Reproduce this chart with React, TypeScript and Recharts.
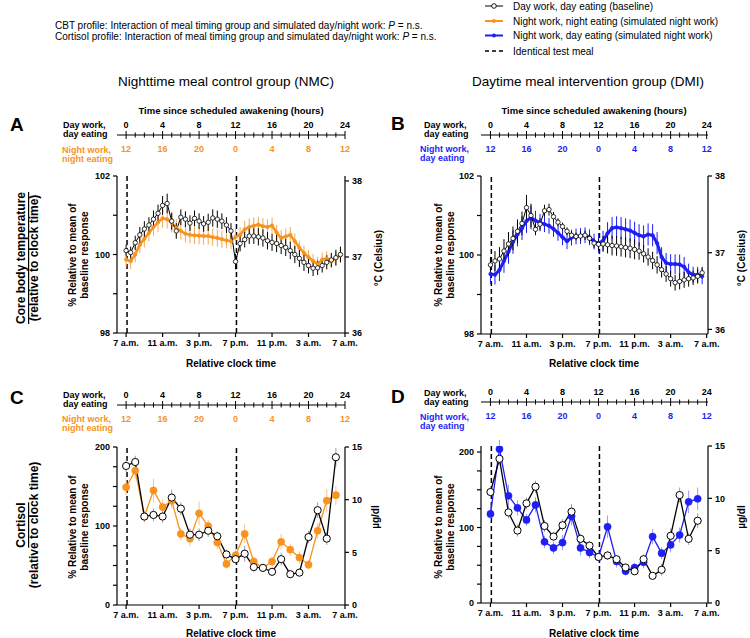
import React from 'react';
import { ComposedChart, Line, XAxis, YAxis, ErrorBar, ReferenceLine } from 'recharts';

// x grids (hours since scheduled awakening)
const cbtHours = Array.from({ length: 48 }, (_, i) => i * 0.5);
const cortHours = Array.from({ length: 24 }, (_, i) => i);

const awakeTicks = [0, 4, 8, 12, 16, 20, 24];
const shiftedLabels = ['12', '16', '20', '0', '4', '8', '12'];
const clockLabels = ['7 a.m.', '11 a.m.', '3 p.m.', '7 p.m.', '11 p.m.', '3 a.m.', '7 a.m.'];
const hourTicks = Array.from({ length: 25 }, (_, i) => i);
const mealTimes = [0.1, 12.1];

// core body temperature, % relative to baseline mean
const cbtBaseNMC = [100.1, 100.05, 100.3, 100.5, 100.65, 100.75, 100.9, 101.05, 101.25, 101.3, 100.85, 100.6, 100.95, 100.9, 100.8, 100.92, 100.85, 100.78, 100.82, 100.93, 100.9, 100.85, 100.75, 100.6, 99.82, 100.28, 100.38, 100.47, 100.47, 100.45, 100.42, 100.35, 100.31, 100.28, 100.23, 100.18, 100.1, 100.0, 99.9, 99.8, 99.72, 99.65, 99.66, 99.72, 99.8, 99.86, 99.92, 100.0];
const cbtBaseNMCErr = [0.15, 0.15, 0.18, 0.2, 0.2, 0.2, 0.22, 0.22, 0.24, 0.25, 0.22, 0.2, 0.2, 0.2, 0.2, 0.2, 0.2, 0.2, 0.22, 0.22, 0.22, 0.2, 0.2, 0.2, 0.2, 0.2, 0.2, 0.2, 0.2, 0.22, 0.22, 0.22, 0.22, 0.22, 0.22, 0.22, 0.22, 0.22, 0.22, 0.22, 0.2, 0.2, 0.18, 0.18, 0.18, 0.18, 0.2, 0.2];
const cbtNightNMC = [99.87, 99.83, 100.0, 100.25, 100.4, 100.55, 100.7, 100.82, 100.92, 100.9, 100.8, 100.68, 100.6, 100.53, 100.5, 100.49, 100.48, 100.47, 100.47, 100.44, 100.42, 100.39, 100.36, 100.34, 100.45, 100.5, 100.64, 100.7, 100.73, 100.76, 100.72, 100.7, 100.74, 100.56, 100.42, 100.46, 100.5, 100.34, 100.17, 100.04, 99.93, 99.83, 99.76, 99.87, 99.9, 99.83, 99.9, 99.98];
const cbtNightNMCErr = [0.18, 0.2, 0.2, 0.22, 0.22, 0.22, 0.22, 0.24, 0.24, 0.24, 0.24, 0.22, 0.22, 0.22, 0.22, 0.22, 0.22, 0.22, 0.22, 0.22, 0.22, 0.22, 0.2, 0.2, 0.2, 0.2, 0.22, 0.22, 0.22, 0.2, 0.2, 0.2, 0.2, 0.2, 0.2, 0.2, 0.2, 0.2, 0.18, 0.18, 0.18, 0.18, 0.18, 0.18, 0.18, 0.18, 0.18, 0.18];
const cbtBaseDMI = [99.75, 99.85, 99.9, 100.1, 100.28, 100.42, 100.6, 100.8, 101.2, 101.0, 100.65, 100.78, 101.12, 101.15, 100.97, 100.83, 100.72, 100.6, 100.5, 100.47, 100.48, 100.5, 100.42, 100.3, 100.27, 100.28, 100.26, 100.24, 100.23, 100.21, 100.19, 100.17, 100.14, 100.1, 100.03, 99.95, 99.86, 99.75, 99.63, 99.52, 99.4, 99.3, 99.33, 99.37, 99.4, 99.42, 99.46, 99.55];
const cbtBaseDMIErr = [0.2, 0.25, 0.3, 0.3, 0.3, 0.3, 0.3, 0.3, 0.32, 0.3, 0.15, 0.15, 0.15, 0.15, 0.12, 0.1, 0.1, 0.1, 0.1, 0.1, 0.12, 0.12, 0.12, 0.12, 0.15, 0.2, 0.22, 0.25, 0.25, 0.25, 0.25, 0.25, 0.25, 0.22, 0.22, 0.22, 0.22, 0.22, 0.2, 0.2, 0.2, 0.2, 0.2, 0.2, 0.2, 0.18, 0.18, 0.15];
const cbtDayDMI = [99.52, 99.5, 99.62, 99.85, 100.08, 100.33, 100.52, 100.68, 100.86, 100.95, 100.87, 100.82, 100.78, 100.74, 100.66, 100.56, 100.45, 100.35, 100.44, 100.47, 100.48, 100.5, 100.45, 100.34, 100.3, 100.36, 100.55, 100.68, 100.7, 100.68, 100.65, 100.62, 100.56, 100.5, 100.47, 100.52, 100.5, 100.3, 99.95, 99.8, 99.77, 99.77, 99.76, 99.7, 99.56, 99.5, 99.5, 99.46];
const cbtDayDMIErr = [0.25, 0.25, 0.28, 0.3, 0.3, 0.3, 0.3, 0.3, 0.3, 0.3, 0.25, 0.22, 0.2, 0.2, 0.2, 0.2, 0.2, 0.2, 0.2, 0.2, 0.2, 0.2, 0.2, 0.2, 0.25, 0.25, 0.28, 0.28, 0.28, 0.28, 0.28, 0.28, 0.28, 0.28, 0.28, 0.28, 0.28, 0.28, 0.25, 0.25, 0.25, 0.25, 0.25, 0.25, 0.22, 0.2, 0.2, 0.2];

// cortisol, % relative to baseline mean
const cortBaseNMC = [176, 181, 112, 114, 112, 136, 122, 89, 89, 94, 87, 64, 58, 65, 48, 47, 42, 58, 39, 41, 86, 120, 84, 187];
const cortBaseNMCErr = [8, 8, 6, 8, 8, 10, 8, 8, 8, 8, 6, 6, 6, 10, 6, 5, 5, 8, 5, 5, 8, 10, 8, 12];
const cortNightNMC = [149, 170, 112, 145, 124, 132, 90, 84, 116, 100, 79, 52, 63, 90, 55, 47, 55, 80, 70, 60, 51, 94, 132, 139];
const cortNightNMCErr = [10, 10, 8, 15, 10, 10, 8, 10, 15, 8, 8, 6, 8, 12, 6, 5, 6, 10, 8, 8, 6, 10, 15, 12];
const cortBaseDMI = [147, 191, 120, 96, 132, 154, 102, 88, 103, 121, 85, 76, 61, 63, 58, 47, 42, 58, 36, 44, 89, 143, 85, 109];
const cortBaseDMIErr = [8, 8, 8, 8, 8, 8, 8, 6, 8, 10, 6, 6, 5, 6, 5, 5, 5, 6, 5, 8, 10, 10, 8, 10];
const cortDayDMI = [118, 204, 142, 126, 110, 130, 81, 73, 80, 115, 73, 67, 61, 101, 55, 42, 47, 54, 88, 66, 77, 90, 134, 138];
const cortDayDMIErr = [10, 12, 15, 10, 8, 10, 8, 8, 10, 12, 10, 8, 8, 15, 8, 5, 6, 8, 10, 8, 10, 10, 15, 15];

const ORANGE = '#F7931E';
const BLUE = '#1E1EF5';
const FONT = "'Liberation Sans', Arial, sans-serif";

const rows = (hours: number[], v: number[], e: number[]) => hours.map((h, i) => ({ h, v: v[i], e: e[i] }));

const tickStyle = { fill: '#000', fontSize: 9, fontWeight: 'bold', fontFamily: FONT };

const HourTick = (props: any) => {
  const { x, y, payload, color } = props;
  const h = payload.value;
  const i = awakeTicks.indexOf(h);
  const len = i >= 0 ? 4 : 2.5;
  return (
    <g>
      <line x1={x} x2={x} y1={y - len} y2={y + len} stroke="#000" strokeWidth={1} />
      {i >= 0 && (
        <text x={x} y={y - 7} textAnchor="middle" fontSize={9} fontWeight="bold" fontFamily={FONT} fill="#000">{h}</text>
      )}
      {i >= 0 && (
        <text x={x} y={y + 17} textAnchor="middle" fontSize={9} fontWeight="bold" fontFamily={FONT} fill={color}>{shiftedLabels[i]}</text>
      )}
    </g>
  );
};

const HourAxis = ({ left, top, width, plotLeft, mr, xDomain, color }: any) => (
  <div style={{ position: 'absolute', left, top }}>
    <ComposedChart width={width} height={60} margin={{ top: 0, right: mr, bottom: 0, left: plotLeft }} data={hourTicks.map((h) => ({ h }))}>
      <XAxis type="number" dataKey="h" domain={xDomain} ticks={hourTicks} interval={0} allowDataOverflow height={25}
        tickSize={0} tickMargin={0} tickLine={false} stroke="#000" strokeWidth={1.2}
        tick={(p: any) => <HourTick {...p} color={color} />} />
      <YAxis hide />
    </ComposedChart>
  </div>
);

const Panel = ({ left, top, width, height, plotLeft, mr, xDomain, yDomain, yTicks, yShown, rDomain, rTicks, base, shifted, color, errColor, baseErrColor, big, lineW }: any) => (
  <div style={{ position: 'absolute', left, top }}>
    <ComposedChart width={width} height={height} margin={{ top: 6, right: mr, bottom: 0, left: 0 }}>
      <XAxis type="number" dataKey="h" domain={xDomain} ticks={awakeTicks} interval={0} allowDataOverflow height={20}
        tickSize={4} tickMargin={3} stroke="#000" strokeWidth={1.2} tick={tickStyle}
        tickFormatter={(v: number) => clockLabels[awakeTicks.indexOf(v)]} />
      <YAxis yAxisId="l" domain={yDomain} ticks={yTicks} interval={0} allowDataOverflow width={plotLeft}
        tickSize={4} tickMargin={3} stroke="#000" strokeWidth={1.2} tick={tickStyle}
        tickFormatter={(v: number) => (yShown.includes(v) ? String(v) : '')} />
      <YAxis yAxisId="r" orientation="right" domain={rDomain} ticks={rTicks} interval={0} allowDataOverflow width={30}
        tickSize={4} tickMargin={3} stroke="#000" strokeWidth={1.2} tick={tickStyle} />
      {mealTimes.map((m) => (
        <ReferenceLine key={m} x={m} yAxisId="l" stroke="#000" strokeDasharray="5 3" strokeWidth={1.5} />
      ))}
      <Line yAxisId="l" data={shifted} dataKey="v" stroke={color} strokeWidth={lineW} isAnimationActive={false}
        dot={{ r: big ? 3.6 : 1.8, fill: color, stroke: color, strokeWidth: 0.5 }}>
        <ErrorBar dataKey="e" width={0} stroke={errColor} strokeWidth={1} direction="y" />
      </Line>
      <Line yAxisId="l" data={base} dataKey="v" stroke="#000" strokeWidth={big ? 1.3 : 1} isAnimationActive={false}
        dot={{ r: big ? 3.6 : 2.2, fill: '#fff', stroke: '#000', strokeWidth: big ? 1 : 0.8 }}>
        <ErrorBar dataKey="e" width={0} stroke={baseErrColor} strokeWidth={1} direction="y" />
      </Line>
    </ComposedChart>
  </div>
);

const Txt = ({ x, y, children, size = 9, anchor = 'middle', weight = 'bold', color = '#000', rotate = 0, underline = false }: any) => (
  <text x={x} y={y} fontSize={size} textAnchor={anchor} fontWeight={weight} fill={color} fontFamily={FONT}
    dominantBaseline="central" transform={rotate ? `rotate(${rotate} ${x} ${y})` : undefined}
    style={underline ? { textDecoration: 'underline' } : undefined}>{children}</text>
);

const App: React.FC = () => {
  const xA: [number, number] = [-1, 24];
  const xB: [number, number] = [-1.05, 24.15];
  return (
    <div style={{ position: 'absolute', left: 0, top: 0, width: 750, height: 638, background: '#fff', fontFamily: FONT }}>
      {/* top hour axes */}
      <HourAxis left={0} top={100} width={400} plotLeft={117} mr={55} xDomain={xA} color={ORANGE} />
      <HourAxis left={370} top={100} width={380} plotLeft={111} mr={42} xDomain={xB} color={BLUE} />
      <HourAxis left={0} top={370} width={400} plotLeft={117} mr={55} xDomain={xA} color={ORANGE} />
      <HourAxis left={370} top={367} width={380} plotLeft={111} mr={42} xDomain={xB} color={BLUE} />

      {/* A: CBT, NMC */}
      <Panel left={0} top={170} width={400} height={183} plotLeft={117} mr={25} xDomain={xA}
        yDomain={[98, 102]} yTicks={[98, 99, 100, 101, 102]} yShown={[98, 100, 102]}
        rDomain={[36, 38.065]} rTicks={[36, 37, 38]}
        base={rows(cbtHours, cbtBaseNMC, cbtBaseNMCErr)} shifted={rows(cbtHours, cbtNightNMC, cbtNightNMCErr)}
        color={ORANGE} errColor="#F8A850" baseErrColor="#000" lineW={2.5} />
      {/* B: CBT, DMI */}
      <Panel left={370} top={170} width={380} height={184} plotLeft={111} mr={12} xDomain={xB}
        yDomain={[98, 102]} yTicks={[98, 99, 100, 101, 102]} yShown={[98, 100, 102]}
        rDomain={[35.94, 38]} rTicks={[36, 37, 38]}
        base={rows(cbtHours, cbtBaseDMI, cbtBaseDMIErr)} shifted={rows(cbtHours, cbtDayDMI, cbtDayDMIErr)}
        color={BLUE} errColor={BLUE} baseErrColor="#000" lineW={3} />
      {/* C: cortisol, NMC */}
      <Panel left={0} top={441} width={400} height={184} plotLeft={117} mr={25} xDomain={xA}
        yDomain={[0, 200]} yTicks={[0, 25, 50, 75, 100, 125, 150, 175, 200]} yShown={[0, 100, 200]}
        rDomain={[0, 15]} rTicks={[0, 5, 10, 15]}
        base={rows(cortHours, cortBaseNMC, cortBaseNMCErr)} shifted={rows(cortHours, cortNightNMC, cortNightNMCErr)}
        color={ORANGE} errColor="#F9C48E" baseErrColor="#A0A0A0" big lineW={1.3} />
      {/* D: cortisol, DMI */}
      <Panel left={370} top={440} width={380} height={183} plotLeft={111} mr={12} xDomain={xB}
        yDomain={[0, 208]} yTicks={[0, 25, 50, 75, 100, 125, 150, 175, 200]} yShown={[0, 100, 200]}
        rDomain={[0, 15]} rTicks={[0, 5, 10, 15]}
        base={rows(cortHours, cortBaseDMI, cortBaseDMIErr)} shifted={rows(cortHours, cortDayDMI, cortDayDMIErr)}
        color={BLUE} errColor="#9A9AFA" baseErrColor="#A0A0A0" big lineW={1.3} />

      <svg width={750} height={638} style={{ position: 'absolute', left: 0, top: 0, pointerEvents: 'none' }}>
        {/* header */}
        <Txt x={55} y={25} size={10} anchor="start" weight="normal">CBT profile: Interaction of meal timing group and simulated day/night work: <tspan fontStyle="italic">P</tspan> = n.s.</Txt>
        <Txt x={55} y={36} size={10} anchor="start" weight="normal">Cortisol profile: Interaction of meal timing group and simulated day/night work: <tspan fontStyle="italic">P</tspan> = n.s.</Txt>

        {/* legend */}
        <line x1={485} x2={503} y1={6} y2={6} stroke="#000" strokeWidth={1} />
        <circle cx={494} cy={6} r={2.3} fill="#fff" stroke="#000" strokeWidth={0.9} />
        <Txt x={513} y={6} size={10} anchor="start" weight="normal">Day work, day eating (baseline)</Txt>
        <line x1={485} x2={503} y1={21} y2={21} stroke={ORANGE} strokeWidth={2} />
        <circle cx={494} cy={21} r={2} fill={ORANGE} />
        <Txt x={513} y={21} size={10} anchor="start" weight="normal">Night work, night eating (simulated night work)</Txt>
        <line x1={485} x2={503} y1={35.5} y2={35.5} stroke={BLUE} strokeWidth={2} />
        <circle cx={494} cy={35.5} r={2} fill={BLUE} />
        <Txt x={513} y={35.5} size={10} anchor="start" weight="normal">Night work, day eating (simulated night work)</Txt>
        <line x1={485} x2={503} y1={51} y2={51} stroke="#000" strokeWidth={1.5} strokeDasharray="4 3" />
        <Txt x={513} y={51} size={10} anchor="start" weight="normal">Identical test meal</Txt>

        {/* group titles */}
        <Txt x={226} y={81} size={13.5} weight="normal">Nighttime meal control group (NMC)</Txt>
        <Txt x={588} y={81} size={13.5} weight="normal">Daytime meal intervention group (DMI)</Txt>

        {/* panel letters */}
        <Txt x={10} y={124} size={19} anchor="start">A</Txt>
        <Txt x={391} y={123} size={19} anchor="start">B</Txt>
        <Txt x={10} y={397} size={19} anchor="start">C</Txt>
        <Txt x={391} y={396} size={19} anchor="start">D</Txt>

        {/* top axis captions */}
        <Txt x={231} y={110} size={9.5}>Time since scheduled awakening (hours)</Txt>
        <Txt x={594} y={110} size={9.5}>Time since scheduled awakening (hours)</Txt>
        {[{ x: 63, y: 125 }, { x: 424, y: 125 }, { x: 63, y: 395 }, { x: 424, y: 393 }].map((p, i) => (
          <g key={'d' + i}>
            <Txt x={p.x} y={p.y} anchor="start">Day work,</Txt>
            <Txt x={p.x} y={p.y + 9} anchor="start">day eating</Txt>
          </g>
        ))}
        <Txt x={62} y={150} anchor="start" color={ORANGE}>Night  work,</Txt>
        <Txt x={62} y={159} anchor="start" color={ORANGE}>night eating</Txt>
        <Txt x={420} y={149} anchor="start" color={BLUE}>Night  work,</Txt>
        <Txt x={420} y={158} anchor="start" color={BLUE}>day eating</Txt>
        <Txt x={62} y={419} anchor="start" color={ORANGE}>Night  work,</Txt>
        <Txt x={62} y={428} anchor="start" color={ORANGE}>night eating</Txt>
        <Txt x={420} y={417} anchor="start" color={BLUE}>Night  work,</Txt>
        <Txt x={420} y={426} anchor="start" color={BLUE}>day eating</Txt>

        {/* y axis titles */}
        {[{ x: 72, y: 255 }, { x: 438, y: 255 }, { x: 72, y: 527 }, { x: 438, y: 527 }].map((p, i) => (
          <g key={'y' + i}>
            <Txt x={p.x} y={p.y} size={10} rotate={-90}>% Relative to mean of</Txt>
            <Txt x={p.x + 12} y={p.y} size={10} rotate={-90}>baseline response</Txt>
          </g>
        ))}
        <Txt x={378} y={258} size={10} rotate={-90}>°C (Celsius)</Txt>
        <Txt x={741} y={258} size={10} rotate={-90}>°C (Celsius)</Txt>
        <Txt x={375} y={517} size={10} rotate={-90}>µg/dl</Txt>
        <Txt x={741} y={517} size={10} rotate={-90}>µg/dl</Txt>

        {/* row labels */}
        <Txt x={21} y={258} size={12} rotate={-90} underline>Core body temperature</Txt>
        <Txt x={34} y={258} size={12} rotate={-90}>(relative to clock time)</Txt>
        <Txt x={21} y={525} size={12} rotate={-90} underline>Cortisol</Txt>
        <Txt x={34} y={525} size={12} rotate={-90}>(relative to clock time)</Txt>

        {/* x axis titles */}
        <Txt x={231} y={363} size={10}>Relative clock time</Txt>
        <Txt x={594} y={363} size={10}>Relative clock time</Txt>
        <Txt x={231} y={633} size={10}>Relative clock time</Txt>
        <Txt x={594} y={633} size={10}>Relative clock time</Txt>
      </svg>
    </div>
  );
};

export default App;
